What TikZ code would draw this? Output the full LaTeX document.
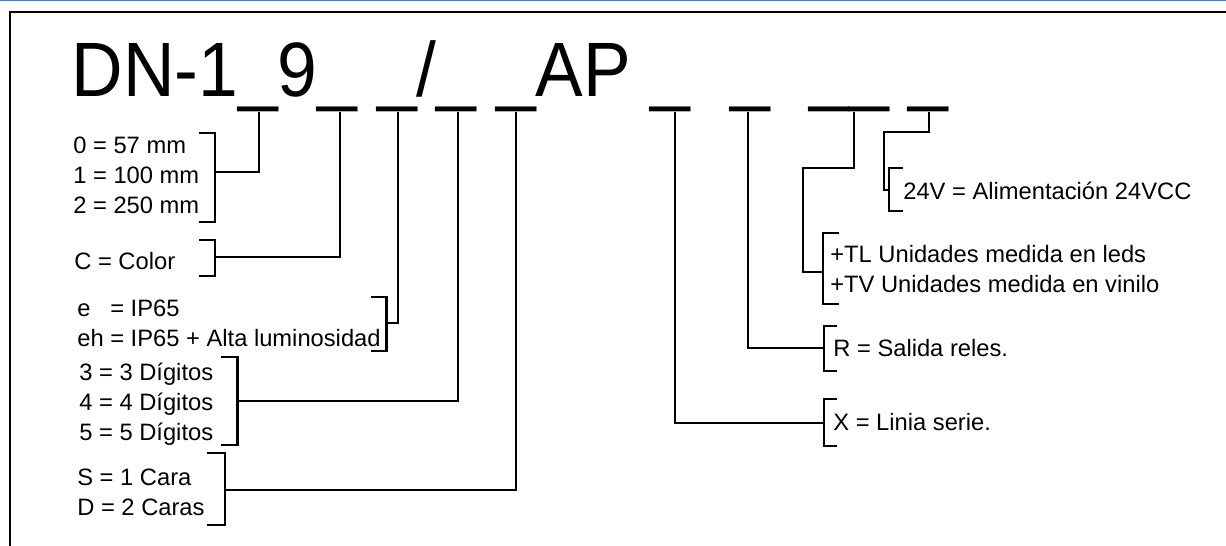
\documentclass[tikz,border=0pt]{standalone}
\usepackage{fontspec}
\setmainfont{Liberation Sans}
\usepackage{graphicx}
\usepackage{xcolor}
\definecolor{frameblue}{RGB}{84,120,160}

\begin{document}
\begin{tikzpicture}[x=0.02cm, y=-0.02cm,
		opt/.style={anchor=west, align=left, inner sep=0pt, font=\fontsize{13.5}{17.07}\selectfont},
		link/.style={line width=0.04cm},
		brk/.style={line width=0.045cm}]
			\useasboundingbox (0,0) rectangle (1226,545);
			\draw[line width=0.025cm, frameblue] (0,0.6) -- (1226,0.6);
			\draw[line width=0.044cm] (10,560) -- (10,12) -- (1240,12);
			\node[anchor=base west, inner sep=0pt, font=\fontsize{40.63}{48}\selectfont] (T) at (71.4,96.5) {\scalebox{1}[1.08]{DN-1\_9\_ \_/\_ \_AP \_\ \ \_\ \ \_\_ \_}};
			\coordinate (U1) at (259,112);
			\coordinate (U2) at (340,112);
			\coordinate (U3) at (398,112);
			\coordinate (U4) at (458,112);
			\coordinate (U5) at (516,112);
			\coordinate (U6) at (675,112);
			\coordinate (U7) at (748,112);
			\coordinate (U8) at (854,112);
			\coordinate (U9) at (929,112);
			\node[opt] (O1) at (73,175) {0 = 57 mm\\1 = 100 mm\\2 = 250 mm};
			\node[opt] (O2) at (74,261) {C = Color};
			\node[opt] (O3) at (77,323) {e\ \ \ = IP65\\eh = IP65 + Alta luminosidad};
			\node[opt] (O4) at (79,404) {3 = 3 Dígitos\\4 = 4 Dígitos\\5 = 5 Dígitos};
			\node[opt] (O5) at (77,492) {S = 1 Cara\\D = 2 Caras};
			\node[opt] (O6) at (903,191) {24V = Alimentación 24VCC};
			\node[opt] (O7) at (830,269) {+TL Unidades medida en leds\\+TV Unidades medida en vinilo};
			\node[opt] (O8) at (833,348) {R = Salida reles.};
			\node[opt] (O9) at (833,422) {X = Linia serie.};
			\draw[brk] (199,133) -- (215,133) -- (215,222) -- (199,222);
			\draw[brk] (199,240) -- (215,240) -- (215,276) -- (199,276);
			\draw[brk] (371,297) -- (386.5,297) -- (386.5,351) -- (371,351);
			\draw[brk] (221,357) -- (237.5,357) -- (237.5,445) -- (221,445);
			\draw[brk] (207,453) -- (225,453) -- (225,525) -- (207,525);
			\draw[brk] (903,168) -- (889,168) -- (889,211) -- (903,211);
			\draw[brk] (839,233) -- (823,233) -- (823,304) -- (839,304);
			\draw[brk] (837,326) -- (824,326) -- (824,371) -- (837,371);
			\draw[brk] (837,399) -- (824,399) -- (824,446) -- (837,446);
			\coordinate (B1) at (215,172);
			\coordinate (B2) at (215,257);
			\coordinate (B3) at (386.5,323);
			\coordinate (B4) at (237.5,401);
			\coordinate (B5) at (225,490);
			\coordinate (B6) at (889,190);
			\coordinate (B7) at (823,272);
			\coordinate (B8) at (824,348);
			\coordinate (B9) at (824,423);
			\draw[link] (U1) |- (B1);
			\draw[link] (U2) |- (B2);
			\draw[link] (U3) |- (B3);
			\draw[link] (U4) |- (B4);
			\draw[link] (U5) |- (B5);
			\draw[link] (U6) |- (B9);
			\draw[link] (U7) |- (B8);
			\draw[link] (U8) -- ++(0,56) -| (803,272) -- (B7);
			\draw[link] (U9) -- ++(0,20) -| (884,190) -- (B6);
		\end{tikzpicture}
\end{document}
